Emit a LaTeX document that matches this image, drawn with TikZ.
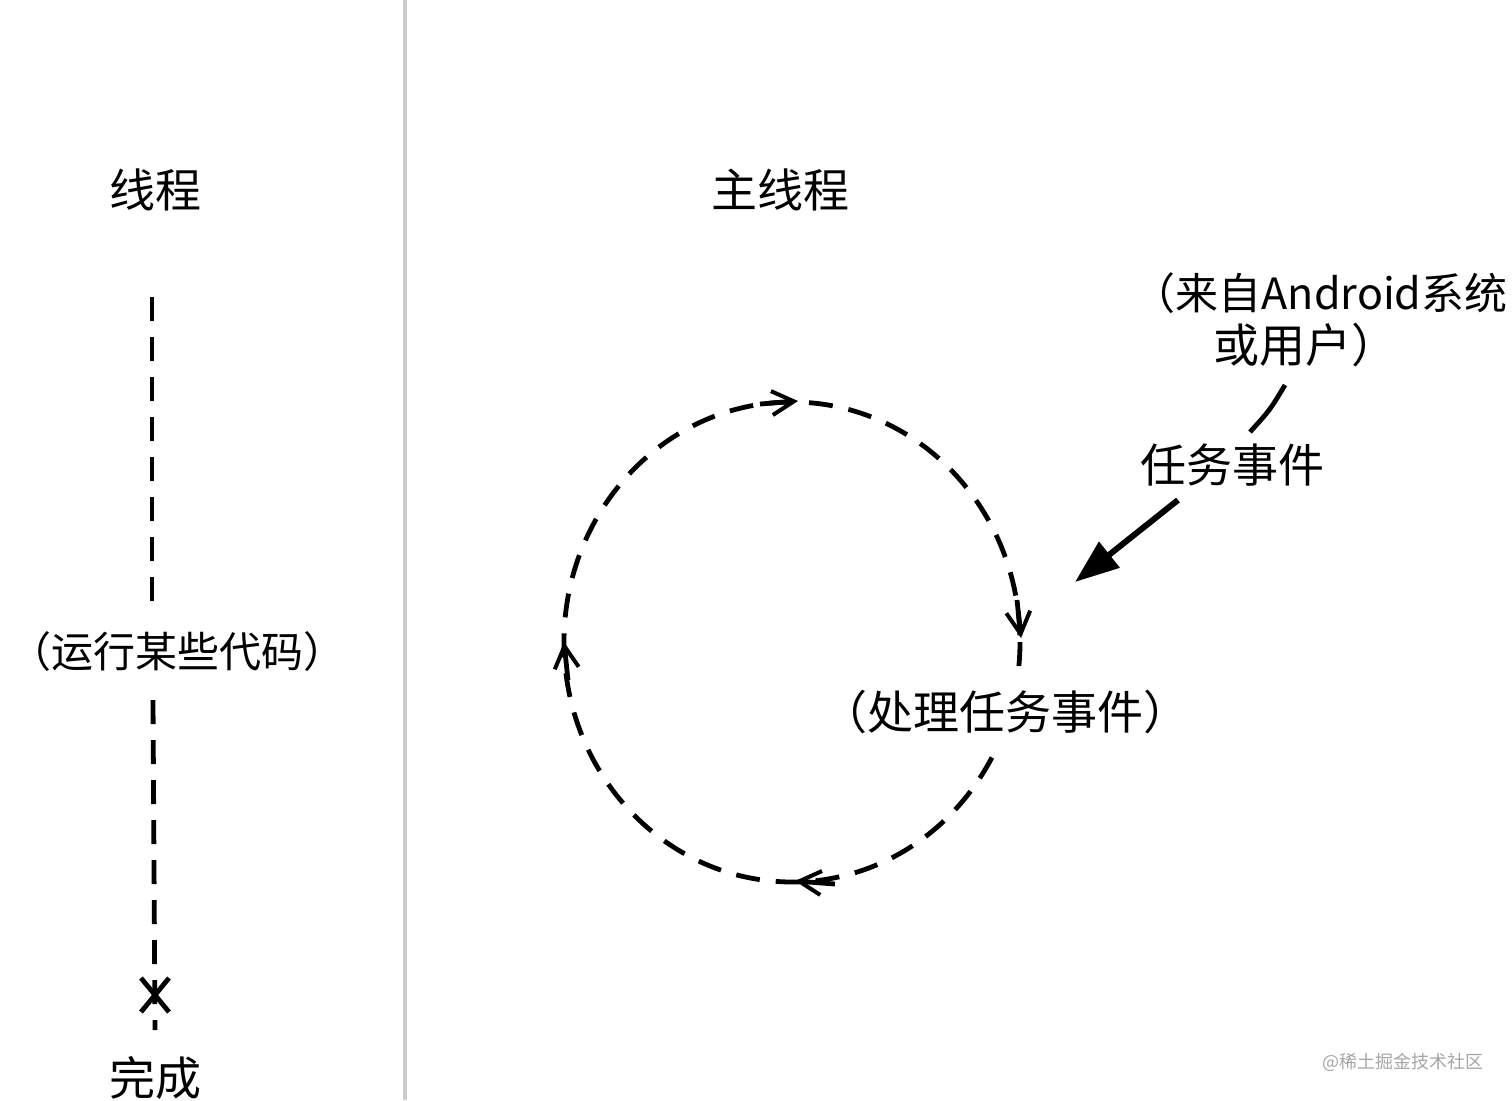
\documentclass[tikz,border=0pt]{standalone}
\usepackage{fontspec}
\setmainfont{Noto Sans CJK SC}
\usetikzlibrary{arrows.meta}
\begin{document}
\begin{tikzpicture}[x=0.5pt,y=-0.5pt,
  lbl/.style={font=\fontsize{23}{27}\selectfont, inner sep=0pt},
  dsh/.style={line width=2.4pt, dash pattern=on 12pt off 8pt},
  openhead/.style={-{Straight Barb[length=11pt,width=12pt,line width=2pt]}}]
\useasboundingbox (0,0) rectangle (1512,1100);
\fill[white] (0,0) rectangle (1512,1100);
\draw[line width=2pt, gray!40] (405,0) -- (405,1100);
% left
\node[lbl] (t1) at (155,190) {线程};
\node[lbl, font=\fontsize{21}{25}\selectfont] (code) at (178,652) {（运行某些代码）};
\coordinate (ltop) at (152,297);
\coordinate (lmid1) at (152,610);
\coordinate (lmid2) at (153,700);
\coordinate (lbot) at (155,1030);
\draw[dsh] (ltop) -- (lmid1);
\draw[dsh] (lmid2) -- (lbot);
\draw[line width=2.4pt] (141,978) -- (169,1012) (169,978) -- (141,1012);
\node[lbl] (done) at (155,1078) {完成};
% right
\node[lbl] (t2) at (780,190) {主线程};
\coordinate (c) at (792,642);
\draw[dsh] (c) ellipse[x radius=228,y radius=240];
\node[lbl, fill=white, inner xsep=0pt, inner ysep=8pt] (proc) at (1005,712) {（处理任务事件）};
\draw[line width=2.4pt, openhead] (760,404) -- (798,401);
\draw[line width=2.4pt, openhead] (1017,600) -- (1021,638);
\draw[line width=2.4pt, openhead] (835,884) -- (795,881);
\draw[line width=2.4pt, openhead] (568,680) -- (564,642);
\node[lbl, font=\fontsize{21.5}{26}\selectfont, anchor=east] (src1) at (1508,293) {（来自Android系统};
\node[lbl] (src2) at (1305,345) {或用户）};
\node[lbl] (ev) at (1232,465) {任务事件};
\draw[line width=2.4pt] (1285,385) .. controls (1270,410) .. (1250,432);
\draw[line width=3pt, -{Triangle[length=22pt,width=16pt]}] (1178,500) -- (1075,582);
\node[font=\fontsize{9}{10}\selectfont, text=gray!70, inner sep=0pt] (wm) at (1403,1062) {@稀土掘金技术社区};
\end{tikzpicture}
\end{document}
